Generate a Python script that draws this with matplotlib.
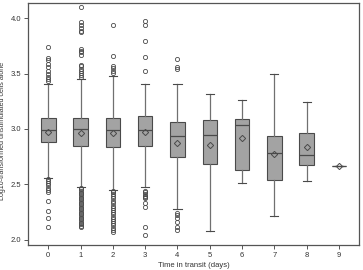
import matplotlib
matplotlib.use("Agg")
import matplotlib.pyplot as plt

days = [0, 1, 2, 3, 4, 5, 6, 7, 8, 9]
q1 = [2.880, 2.851, 2.837, 2.848, 2.746, 2.680, 2.629, 2.538, 2.674, 2.665]
med = [2.990, 2.999, 2.993, 2.993, 2.941, 2.948, 3.035, 2.782, 2.764, 2.665]
q3 = [3.098, 3.098, 3.098, 3.119, 3.059, 3.080, 3.089, 2.941, 2.963, 2.665]
mean = [2.974, 2.963, 2.963, 2.969, 2.878, 2.860, 2.918, 2.770, 2.837, 2.665]
whislo = [2.562, 2.481, 2.451, 2.481, 2.280, 2.081, 2.514, 2.214, 2.535, 2.665]
whishi = [3.405, 3.453, 3.480, 3.405, 3.405, 3.318, 3.257, 3.495, 3.243, 2.665]

fliers_0 = [3.736, 3.640, 3.620, 3.585, 3.555, 3.520, 3.500, 3.468, 3.450, 3.430,
            2.548, 2.530, 2.510, 2.496, 2.470, 2.450, 2.436, 2.352, 2.262, 2.200, 2.117]
fliers_1 = [4.100, 3.965, 3.940, 3.910, 3.880, 3.870, 3.720, 3.705, 3.690, 3.670,
            3.580, 3.565, 3.545, 3.525, 3.505, 3.485, 3.468,
            2.470, 2.455, 2.440, 2.425, 2.410, 2.395, 2.380, 2.365, 2.350, 2.335,
            2.320, 2.305, 2.290, 2.275, 2.260, 2.245, 2.230, 2.215, 2.200, 2.185,
            2.170, 2.155, 2.140, 2.125, 2.114]
fliers_2 = [3.940, 3.654, 3.564, 3.550, 3.525, 3.505,
            2.445, 2.430, 2.415, 2.395, 2.375, 2.350, 2.330, 2.310, 2.290, 2.270,
            2.250, 2.230, 2.210, 2.190, 2.170, 2.150, 2.130, 2.110, 2.090, 2.075]
fliers_3 = [3.970, 3.940, 3.790, 3.645, 3.520,
            2.445, 2.430, 2.415, 2.400, 2.385, 2.376, 2.330, 2.295, 2.114, 2.045]
fliers_4 = [3.630, 3.560, 3.540, 2.240, 2.225, 2.200, 2.165, 2.120, 2.090]
fliers = [fliers_0, fliers_1, fliers_2, fliers_3, fliers_4, [], [], [], [], []]

fam = ["Liberation Sans", "DejaVu Sans"]
fig = plt.figure(figsize=(3.63, 2.70), dpi=100)
ax = fig.add_axes([0.077, 0.093, 0.912, 0.896])

stats = []
for i in range(len(days)):
    stats.append(dict(med=med[i], q1=q1[i], q3=q3[i], whislo=whislo[i],
                      whishi=whishi[i], mean=mean[i], fliers=fliers[i], label=str(days[i])))

edge = "#4a4a4a"
ax.bxp(stats, positions=days, widths=0.45, showmeans=True, patch_artist=True,
       boxprops=dict(facecolor="#a3a3a3", edgecolor=edge, linewidth=0.8),
       medianprops=dict(color=edge, linewidth=0.9),
       whiskerprops=dict(color="#707070", linewidth=0.9),
       capprops=dict(color=edge, linewidth=0.8),
       capwidths=0.25,
       meanprops=dict(marker="D", markerfacecolor="none", markeredgecolor=edge,
                      markersize=3.2, markeredgewidth=0.7),
       flierprops=dict(marker="o", markerfacecolor="none", markeredgecolor=edge,
                       markersize=3.0, markeredgewidth=0.6))

ax.set_xlim(-0.63, 9.62)
ax.set_ylim(1.955, 4.136)
ax.set_xticks(days)
ax.set_xticklabels([str(d) for d in days])
ax.set_yticks([2.0, 2.5, 3.0, 3.5, 4.0])
ax.set_yticklabels(["2.0", "2.5", "3.0", "3.5", "4.0"])
for s in ax.spines.values():
    s.set_color("#555555")
    s.set_linewidth(0.9)
ax.tick_params(labelsize=5.5, length=3, width=0.7, color="#555555", labelcolor="#333333", pad=2)
ax.set_xlabel("Time in transit (days)", fontsize=5.5, color="#333333", family=fam)
ax.set_ylabel("Log10-transformed unstimulated cells alone", fontsize=5.1, color="#333333",
              family=fam)
ax.xaxis.set_label_coords(0.5, -0.072)
ax.yaxis.set_label_coords(-0.066, 0.47)
for lab in ax.get_xticklabels() + ax.get_yticklabels():
    lab.set_family(fam)

fig.savefig("out.png", dpi=100)
